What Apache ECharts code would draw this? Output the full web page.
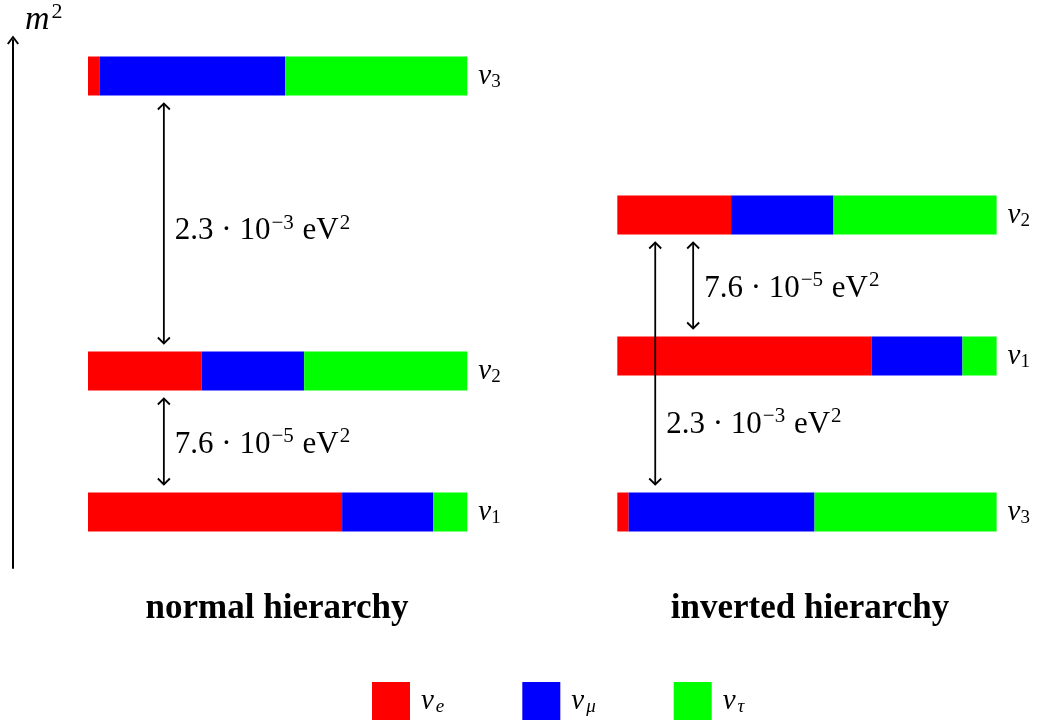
<!DOCTYPE html>
<html>
<head>
<meta charset="utf-8">
<script src="https://cdn.jsdelivr.net/npm/echarts@6/dist/echarts.min.js"></script>
<style>
  html, body { margin: 0; padding: 0; background: #fff; }
  #chart { width: 1037px; height: 725px; }
</style>
</head>
<body>
<div id="chart"></div>
<script>
// flavour names and colours
const flavors = ['νe', 'νμ', 'ντ'];
const flavorColors = ['#ff0000', '#0000ff', '#00ff00'];

// mass states nu1, nu2, nu3 and their flavour content
const massStates = ['1', '2', '3'];
const fracE   = [0.67, 0.30, 0.03];
const fracMu  = [0.24, 0.27, 0.49];
const fracTau = [0.09, 0.43, 0.48];

// m^2 level of each mass state (arbitrary units)
const normalLevels   = [0, 141, 436];
const invertedLevels = [156, 297, 0];

// mass splittings: [lower state, upper state, label index]
const splitLabels = ['7.6 · 10^{−5} eV^2', '2.3 · 10^{−3} eV^2'];
const normalSplits   = [[0, 1, 0], [1, 2, 1]];
const invertedSplits = [[0, 1, 0], [2, 1, 1]];
// horizontal place of each arrow, as fraction of bar length
const normalArrowX   = [0.2, 0.2];
const invertedArrowX = [0.2, 0.1];

const SERIF = '"Liberation Serif", "DejaVu Serif", serif';
const BAR_H = 39;        // bar thickness in level units
const ARROW_GAP = 8;
const labelAt = { normal: [0.5, 0.48], inverted: [0.5, 0.26] };

const fracs = [fracE, fracMu, fracTau];

function toRich(s) {
  // 'a^{b}c^d' -> rich tokens
  let out = '';
  const re = /\^(\{[^}]*\}|.)/g;
  let last = 0, m;
  while ((m = re.exec(s)) !== null) {
    if (m.index > last) out += '{t|' + s.slice(last, m.index) + '}';
    out += '{sup|' + m[1].replace(/[{}]/g, '') + '}';
    last = re.lastIndex;
  }
  if (last < s.length) out += '{t|' + s.slice(last) + '}';
  return out;
}

const mathRich = {
  t:   { fontFamily: SERIF, fontSize: 31, lineHeight: 40, color: '#000' },
  sup: { fontFamily: SERIF, fontSize: 21, lineHeight: 40, color: '#000', padding: [0, 1, 16, 1] }
};
const nuRich = {
  nu:  { fontFamily: SERIF, fontStyle: 'italic', fontSize: 29, color: '#000' },
  sub: { fontFamily: SERIF, fontSize: 19, color: '#000', padding: [12, 0, 0, 0] },
  subi:{ fontFamily: SERIF, fontStyle: 'italic', fontSize: 19, color: '#000', padding: [12, 0, 0, 2] }
};

function barData(levels, f) {
  return levels.map((lv, i) => {
    let start = 0;
    for (let k = 0; k < f; k++) start += fracs[k][i];
    return [start, start + fracs[f][i], lv];
  });
}

function renderBar(params, api) {
  const a = api.coord([api.value(0), api.value(2)]);
  const b = api.coord([api.value(1), api.value(2)]);
  const h = api.size([0, BAR_H])[1];
  return {
    type: 'rect',
    shape: { x: a[0], y: a[1] - h / 2, width: b[0] - a[0], height: h },
    style: { fill: api.visual('color') }
  };
}

function renderStateLabel(params, api) {
  const p = api.coord([1, api.value(0)]);
  return {
    type: 'text',
    x: p[0] + 11, y: p[1],
    style: {
      text: '{nu|ν}{sub|' + massStates[api.value(1)] + '}',
      rich: nuRich, align: 'left', verticalAlign: 'middle'
    }
  };
}

function makeArrowRenderer(at) {
  return function (params, api) {
    const x = api.value(0), lo = api.value(1), hi = api.value(2), li = api.value(3);
    const gap = BAR_H / 2 + ARROW_GAP;
    const dir = hi > lo ? 1 : -1;
    const p0 = api.coord([x, lo + dir * gap]);
    const p1 = api.coord([x, hi - dir * gap]);
    const yl = p0[1] + (p1[1] - p0[1]) * at[params.dataIndex] + 3;
    const head = (tip, d) => ({
      type: 'polyline',
      shape: { points: [[tip[0] - 6, tip[1] + d * 6], [tip[0], tip[1]], [tip[0] + 6, tip[1] + d * 6]] },
      style: { stroke: '#000', fill: null, lineWidth: 1.8 }
    });
    const top = p0[1] < p1[1] ? p0 : p1, bot = p0[1] < p1[1] ? p1 : p0;
    return {
      type: 'group',
      children: [
        { type: 'line', shape: { x1: p0[0], y1: p0[1], x2: p1[0], y2: p1[1] }, style: { stroke: '#000', lineWidth: 1.8 } },
        head(top, 1), head(bot, -1),
        { type: 'text', x: p0[0] + 11, y: yl,
          style: { text: toRich(splitLabels[li]), rich: mathRich, align: 'left', verticalAlign: 'middle' } }
      ]
    };
  };
}

function panelSeries(levels, splits, arrowX, at, idx) {
  const list = flavors.map((name, f) => ({
    type: 'custom', name: name,
    xAxisIndex: idx, yAxisIndex: idx,
    itemStyle: { color: flavorColors[f] },
    renderItem: renderBar,
    data: barData(levels, f),
    silent: true
  }));
  list.push({
    type: 'custom', xAxisIndex: idx, yAxisIndex: idx, silent: true,
    renderItem: renderStateLabel,
    data: levels.map((lv, i) => [lv, i])
  });
  list.push({
    type: 'custom', xAxisIndex: idx, yAxisIndex: idx, silent: true, z: 5,
    renderItem: makeArrowRenderer(at),
    data: splits.map((s, k) => [arrowX[k], levels[s[0]], levels[s[1]], s[2]])
  });
  return list;
}

const chart = echarts.init(document.getElementById('chart'));
const yBase = { type: 'value', min: -56, max: 472, splitLine: { show: false }, axisTick: { show: false }, axisLabel: { show: false } };
const titleStyle = { fontFamily: SERIF, fontWeight: 'bold', fontSize: 35, color: '#000' };

chart.setOption({
  backgroundColor: '#fff',
  animation: false,
  title: [
    { text: 'normal hierarchy', left: 277, top: 591, textAlign: 'center', padding: 0, textStyle: titleStyle },
    { text: 'inverted hierarchy', left: 810, top: 591, textAlign: 'center', padding: 0, textStyle: titleStyle }
  ],
  grid: [
    { left: 88, top: 40, width: 379.3, height: 528, outerBoundsMode: 'none', containLabel: false },
    { left: 617.3, top: 40, width: 379.3, height: 528, outerBoundsMode: 'none', containLabel: false }
  ],
  xAxis: [
    { type: 'value', min: 0, max: 1, show: false, gridIndex: 0 },
    { type: 'value', min: 0, max: 1, show: false, gridIndex: 1 }
  ],
  yAxis: [
    Object.assign({}, yBase, {
      gridIndex: 0, offset: 75,
      axisLine: { show: true, onZero: false, lineStyle: { color: '#000', width: 2 },
        symbol: ['none', 'path://M0,8 L6,0 L12,8 L10.4,9 L6,3 L1.6,9 Z'], symbolSize: [13, 9] },
      name: '{m|m}{sup|2}', nameLocation: 'end', nameGap: 1,
      nameTextStyle: { align: 'left', padding: [0, 0, 0, 12],
        rich: {
          m: { fontFamily: SERIF, fontStyle: 'italic', fontSize: 34, color: '#000' },
          sup: { fontFamily: SERIF, fontSize: 22, color: '#000', padding: [0, 0, 16, 2] }
        } }
    }),
    Object.assign({}, yBase, { gridIndex: 1, show: false })
  ],
  legend: {
    left: 372, top: 682, orient: 'horizontal', padding: 0,
    itemWidth: 38, itemHeight: 38, itemGap: 78,
    icon: 'rect', selectedMode: false,
    data: flavors,
    formatter: name => '{nu|ν}{subi|' + name.slice(1) + '}',
    textStyle: { padding: [0, 0, 0, 6], rich: nuRich }
  },
  series: [].concat(
    panelSeries(normalLevels, normalSplits, normalArrowX, labelAt.normal, 0),
    panelSeries(invertedLevels, invertedSplits, invertedArrowX, labelAt.inverted, 1)
  )
});
</script>
</body>
</html>
